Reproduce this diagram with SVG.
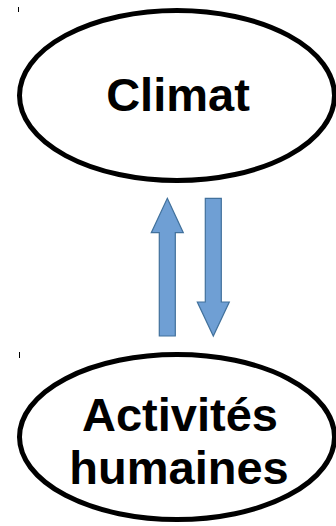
<svg xmlns="http://www.w3.org/2000/svg" width="336" height="526" viewBox="0 0 336 526">
<style>
.node{fill:#ffffff;stroke:#000000;stroke-width:5}
.lbl{font-family:"Liberation Sans",Arial,sans-serif;font-weight:bold;font-size:47px;fill:#000000;text-anchor:middle}
.arrow{fill:#6f9fd4;stroke:#41719c;stroke-width:1.2;stroke-linejoin:miter}
.tick{stroke:#000000;stroke-width:1}
</style>
<rect width="336" height="526" fill="#ffffff"/>
<line class="tick" x1="18.5" y1="7" x2="18.5" y2="12"/>
<line class="tick" x1="19.5" y1="352" x2="19.5" y2="358"/>
<g id="climat">
<ellipse class="node" cx="177" cy="95.5" rx="157.5" ry="85"/>
<text class="lbl" x="178" y="111">Climat</text>
</g>
<g id="activites">
<ellipse class="node" cx="177" cy="437" rx="157.5" ry="82.5"/>
<text class="lbl" x="180" y="431">Activités</text>
<text class="lbl" x="179" y="484">humaines</text>
</g>
<g id="connectors">
<polygon class="arrow" points="167.3,198.3 183.3,232.7 175.3,232.7 175.3,336 159.3,336 159.3,232.7 151.3,232.7"/>
<polygon class="arrow" points="205.3,198.3 221.3,198.3 221.3,302 229.3,302 213.3,336 197.3,302 205.3,302"/>
</g>
</svg>
